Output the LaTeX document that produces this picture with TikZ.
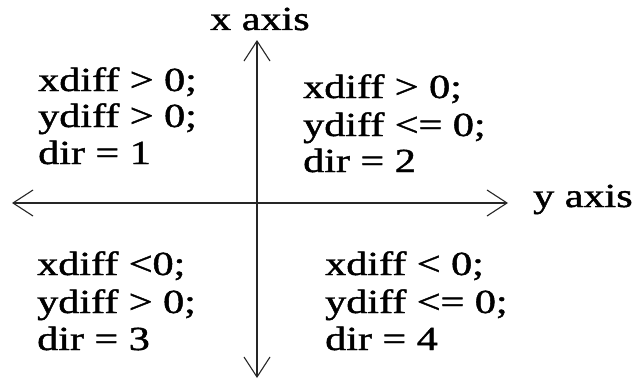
\documentclass[tikz,border=0pt]{standalone}
\usepackage{fontspec}
\setmainfont{Liberation Serif}[FakeBold=1.2]
\usepackage{graphicx}
\usetikzlibrary{arrows.meta}
\newcommand\sx[1]{\scalebox{1.25}[1]{#1}}
\begin{document}
\begin{tikzpicture}[x=1pt,y=-1pt,
  txt/.style={anchor=base west, inner sep=0pt, font=\fontsize{33.7}{40}\selectfont},
  axisline/.style={line width=1.3pt, black!85,
    {Straight Barb[length=20pt,width=26pt,line width=1.1pt]}-{Straight Barb[length=20pt,width=26pt,line width=1.1pt]}}]
\useasboundingbox (0,0) rectangle (635,380);
\fill[white] (0,0) rectangle (635,380);
\coordinate (top) at (257,40);
\coordinate (bot) at (257,378);
\coordinate (lft) at (12,203);
\coordinate (rgt) at (508,203);
\draw[axisline] (bot) -- (top);
\draw[axisline] (lft) -- (rgt);
\node[txt] (xl) at (210,30) {\sx{x axis}};
\node[txt] (yl) at (533,207) {\sx{y axis}};
% quadrant 1
\node[txt] (a1) at (38,91) {\sx{xdiff > 0;}};
\node[txt] (a2) at (38,127) {\sx{ydiff > 0;}};
\node[txt] (a3) at (38,164) {\sx{dir = 1}};
% quadrant 2
\node[txt] (b1) at (303,98) {\sx{xdiff > 0;}};
\node[txt] (b2) at (303,136) {\sx{ydiff <= 0;}};
\node[txt] (b3) at (303,172) {\sx{dir = 2}};
% quadrant 3
\node[txt] (c1) at (37,275) {\sx{xdiff <0;}};
\node[txt] (c2) at (37,313) {\sx{ydiff > 0;}};
\node[txt] (c3) at (37,350) {\sx{dir = 3}};
% quadrant 4
\node[txt] (d1) at (325,275) {\sx{xdiff < 0;}};
\node[txt] (d2) at (325,313) {\sx{ydiff <= 0;}};
\node[txt] (d3) at (325,350) {\sx{dir = 4}};
\end{tikzpicture}
\end{document}
